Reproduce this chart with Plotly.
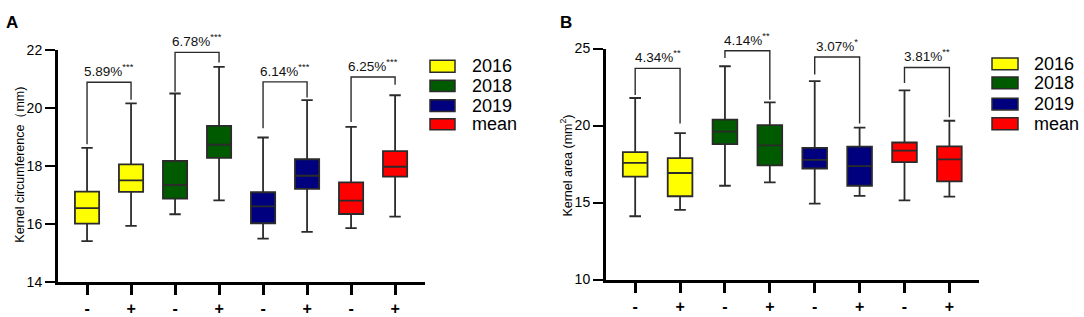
import plotly.graph_objects as go

W, H = 1084, 317

# ---------------- data ----------------
groups = ["2016", "2018", "2019", "mean"]
group_colors = ["#FFFF00", "#005A00", "#00007F", "#FF0000"]
treatments = ["-", "+"]
tick_text = ["-", "+", "-", "+", "-", "+", "-", "+"]
positions = [0, 1, 2, 3, 4, 5, 6, 7]

# Panel A: kernel circumference (mm)
circ_lower = [15.40, 15.93, 16.33, 16.81, 15.49, 15.72, 15.85, 16.25]
circ_q1 = [16.01, 17.10, 16.87, 18.28, 16.02, 17.21, 16.34, 17.63]
circ_median = [16.54, 17.50, 17.34, 18.73, 16.60, 17.66, 16.80, 17.97]
circ_q3 = [17.11, 18.05, 18.17, 19.38, 17.09, 18.23, 17.43, 18.51]
circ_upper = [18.62, 20.16, 20.50, 21.42, 18.98, 20.27, 19.35, 20.44]
circ_pct = ["5.89%", "6.78%", "6.14%", "6.25%"]
circ_sig = ["***", "***", "***", "***"]
circ_br_top = [20.89, 21.92, 20.90, 21.07]
circ_br_left = [18.75, 20.56, 19.30, 19.52]
circ_br_right = [20.28, 21.57, 20.36, 20.80]

# Panel B: kernel area (mm2)
area_lower = [14.11, 14.52, 16.09, 16.31, 14.93, 15.43, 15.14, 15.38]
area_q1 = [16.68, 15.41, 18.80, 17.42, 17.21, 16.09, 17.63, 16.37]
area_median = [17.58, 16.92, 19.60, 18.71, 17.77, 17.36, 18.37, 17.81]
area_q3 = [18.28, 17.89, 20.38, 20.03, 18.55, 18.63, 18.90, 18.65]
area_upper = [21.79, 19.51, 23.85, 21.51, 22.89, 19.86, 22.29, 20.31]
area_pct = ["4.34%", "4.14%", "3.07%", "3.81%"]
area_sig = ["**", "**", "*", "**"]
area_br_top = [23.71, 24.86, 24.45, 23.77]
area_br_left = [21.98, 24.38, 23.32, 22.76]
area_br_right = [20.13, 21.67, 20.13, 20.54]

FONT = "Liberation Sans, Arial, sans-serif"
LINE = "#2b2b2b"


def px(x):
    return x / W


def py(y):
    return 1 - y / H


fig = go.Figure()


def add_panel(xa, ya, lower, q1, med, q3, upper, pct, sig, btop, bl, br):
    xref = "x" if xa == "xaxis" else "x2"
    yref = "y" if ya == "yaxis" else "y2"
    for i, p in enumerate(positions):
        g = i // 2
        fig.add_trace(go.Box(
            x=[p], q1=[q1[i]], median=[med[i]], q3=[q3[i]],
            lowerfence=[lower[i]], upperfence=[upper[i]],
            fillcolor=group_colors[g], line=dict(color=LINE, width=1.8),
            width=0.55, whiskerwidth=0.47, boxpoints=False,
            showlegend=False, xaxis=xref, yaxis=yref,
            name=f"{groups[g]} {treatments[i % 2]}",
        ))
    for k in range(4):
        a, b = positions[2 * k], positions[2 * k + 1]
        fig.add_trace(go.Scatter(
            x=[a, a, b, b], y=[bl[k], btop[k], btop[k], br[k]],
            mode="lines", line=dict(color=LINE, width=1.4),
            showlegend=False, hoverinfo="skip", xaxis=xref, yaxis=yref,
        ))
        fig.add_annotation(
            x=(a + b) / 2, y=btop[k], xref=xref, yref=yref,
            text=f"{pct[k]}<sup>{sig[k]}</sup>", showarrow=False,
            yanchor="bottom", yshift=1, font=dict(size=13.5, color="#111", family=FONT),
        )


add_panel("xaxis", "yaxis", circ_lower, circ_q1, circ_median, circ_q3, circ_upper,
          circ_pct, circ_sig, circ_br_top, circ_br_left, circ_br_right)
add_panel("xaxis2", "yaxis2", area_lower, area_q1, area_median, area_q3, area_upper,
          area_pct, area_sig, area_br_top, area_br_left, area_br_right)

xcommon = dict(
    tickmode="array", tickvals=positions, ticktext=tick_text,
    showline=True, linewidth=3, linecolor="black", ticks="outside",
    ticklen=10, tickwidth=3, tickcolor="black", showgrid=False, zeroline=False,
    tickfont=dict(size=16, family=FONT, color="black", weight="bold"),
)
ycommon = dict(
    showline=True, linewidth=3, linecolor="black", ticks="outside",
    ticklen=10, tickwidth=2, tickcolor="black", showgrid=False, zeroline=False,
    tickfont=dict(size=14, family=FONT, color="black"),
)

fig.update_layout(
    width=W, height=H, margin=dict(l=0, r=0, t=0, b=0),
    plot_bgcolor="white", paper_bgcolor="white", boxmode="overlay",
    font=dict(family=FONT),
    xaxis=dict(domain=[px(58), px(425)], range=[-0.66, 7.68], anchor="y", **xcommon),
    yaxis=dict(domain=[py(288.3), py(44.3)], range=[14, 22], tickvals=[14, 16, 18, 20, 22],
               anchor="x", **ycommon),
    xaxis2=dict(domain=[px(606), px(979)], range=[-0.65, 7.66], anchor="y2", **xcommon),
    yaxis2=dict(domain=[py(286), py(42.7)], range=[10, 25], tickvals=[10, 15, 20, 25],
                anchor="x2", **ycommon),
)

# axis titles
fig.add_annotation(x=px(11), y=py(165), xref="paper", yref="paper",
                   text="Kernel circumference（mm)", textangle=-90, showarrow=False,
                   font=dict(size=12.5, family=FONT, color="black"))
fig.add_annotation(x=px(566), y=py(166), xref="paper", yref="paper",
                   text="Kernel area (mm<sup>2</sup>)", textangle=-90, showarrow=False,
                   font=dict(size=12.5, family=FONT, color="black"))

# panel letters
fig.add_annotation(x=px(4), y=py(3), xref="paper", yref="paper", xanchor="left", yanchor="top",
                   text="<b>A</b>", showarrow=False, font=dict(size=17, family=FONT, color="black"))
fig.add_annotation(x=px(558), y=py(3), xref="paper", yref="paper", xanchor="left", yanchor="top",
                   text="<b>B</b>", showarrow=False, font=dict(size=17, family=FONT, color="black"))

# custom legends
leg_A = dict(x0=430, x1=455, tx=470, rows=[(55, 67.7), (76, 88), (96.7, 109), (116.7, 128.3)])
leg_B = dict(x0=992, x1=1018, tx=1032, rows=[(52.7, 65), (72.7, 85), (95, 107.3), (115.7, 128.3)])
for leg in (leg_A, leg_B):
    for g, (y0, y1) in enumerate(leg["rows"]):
        fig.add_shape(type="rect", xref="paper", yref="paper",
                      x0=px(leg["x0"]), x1=px(leg["x1"]), y0=py(y1), y1=py(y0),
                      fillcolor=group_colors[g], line=dict(color=LINE, width=1.5))
        fig.add_annotation(x=px(leg["tx"]), y=py((y0 + y1) / 2), xref="paper", yref="paper",
                           xanchor="left", yanchor="middle", text=groups[g], showarrow=False,
                           font=dict(size=18, family=FONT, color="black"))

fig.write_html(
    "out.html",
    config={"displayModeBar": False},
    post_script="document.body.style.margin='0';document.body.style.overflow='hidden';",
)
